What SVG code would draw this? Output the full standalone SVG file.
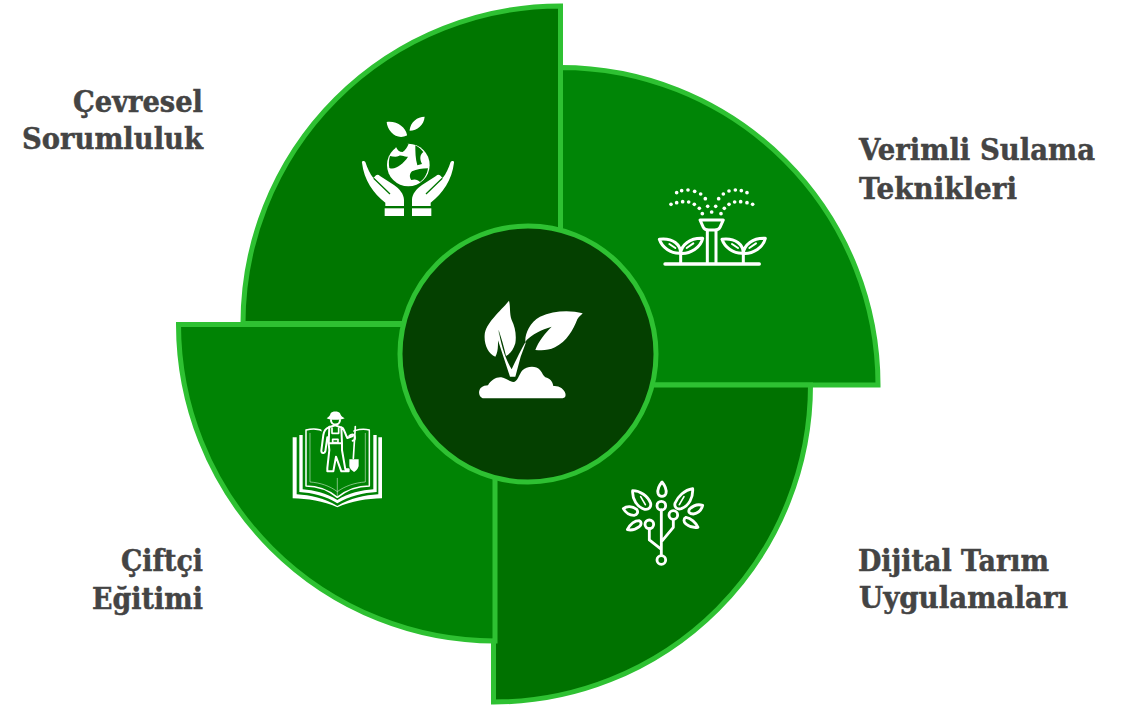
<svg xmlns="http://www.w3.org/2000/svg" width="1135" height="707" viewBox="0 0 1135 707">
<style>
.sec{stroke:#2ec132;stroke-width:5}
.lbl{font-family:"DejaVu Serif","Liberation Serif",serif;font-weight:700;font-size:30px;fill:#444;stroke:#444;stroke-width:.5}
.w{fill:#fff}
.l{fill:none;stroke:#fff;stroke-linejoin:round;stroke-linecap:round}
</style>
<rect width="1135" height="707" fill="#fff"/>
<g id="connectors"></g>
<g id="node-cevresel"><path class="sec" fill="#007600" d="M560.5 323.5V6A317.5 317.5 0 0 0 243 323.500Z"/></g>
<g id="node-sulama"><path class="sec" fill="#008506" d="M560.500 385V67.500A317.500 317.500 0 0 1 878 385Z"/></g>
<g id="node-dijital"><path class="sec" fill="#007200" d="M493.500 385H810.500A317 317 0 0 1 493.500 702Z"/></g>
<g id="node-egitim"><path class="sec" fill="#008304" d="M495 324.500V641A317 317 0 0 1 178.500 324.500Z"/></g>
<g id="node-merkez"><circle class="sec" cx="528" cy="354" r="128" fill="#044000"/></g>

<g id="icon-cevresel" transform="translate(340 100) scale(.3333)">
<circle class="w" cx="205" cy="195" r="64"/>
<path fill="#007600" d="M168 140C176 134 192 130 206 131C202 142 196 150 188 156C178 156 172 150 168 140ZM150 168C158 170 170 172 176 168C186 164 192 172 204 170C198 180 190 188 180 196C170 204 158 208 148 204C146 192 146 180 150 168ZM226 136C234 140 244 148 250 156C240 164 238 176 246 192L232 196C226 176 226 156 226 136ZM264 205C262 222 252 238 240 246C234 240 226 236 214 240C208 232 208 222 216 214C230 208 246 206 264 205Z"/>
<path class="w" d="M201 127V104C196 82 172 62 140 66C142 95 172 122 201 106ZM209 127V90C212 66 232 50 254 50C252 75 232 92 209 92Z"/>
<path class="w" d="M66 188C64 183 73 181 76 186C82 205 90 222 100 234L108 226C112 223 116 224 120 228L162 255C178 266 192 282 192 300V318H136V308C100 280 72 240 66 188Z"/>
<path class="w" d="M342 188C344 183 335 181 332 186C326 205 318 222 308 234L300 226C296 223 292 224 288 228L246 255C230 266 216 282 216 300V318H272V308C308 280 336 240 342 188Z"/>
<path fill="none" stroke="#007600" stroke-width="4" d="M101 235L150 282M307 235L258 282"/>
<rect class="w" x="134" y="325" width="58" height="23"/>
<rect class="w" x="216" y="325" width="58" height="23"/>
</g>

<g id="icon-sulama" transform="translate(640 170) scale(.3333)">
<g class="w">
<circle cx="110" cy="68" r="5.500"/><circle cx="125" cy="62" r="5.500"/><circle cx="144" cy="60" r="5.500"/><circle cx="164" cy="64" r="5.500"/><circle cx="182" cy="72" r="5.500"/><circle cx="196" cy="86" r="5.500"/>
<circle cx="93" cy="103" r="5.500"/><circle cx="110" cy="98" r="5.500"/><circle cx="128" cy="95" r="5.500"/><circle cx="146" cy="96" r="5.500"/><circle cx="163" cy="103" r="5.500"/><circle cx="178" cy="115" r="5.500"/><circle cx="187" cy="131" r="5.500"/>
<circle cx="203" cy="109" r="5.500"/><circle cx="215" cy="126" r="5.500"/><circle cx="227" cy="109" r="5.500"/><circle cx="243" cy="131" r="5.500"/>
<circle cx="236" cy="86" r="5.500"/><circle cx="250" cy="72" r="5.500"/><circle cx="267" cy="63" r="5.500"/><circle cx="286" cy="60" r="5.500"/><circle cx="304" cy="62" r="5.500"/><circle cx="321" cy="68" r="5.500"/>
<circle cx="253" cy="115" r="5.500"/><circle cx="267" cy="103" r="5.500"/><circle cx="284" cy="96" r="5.500"/><circle cx="302" cy="95" r="5.500"/><circle cx="321" cy="98" r="5.500"/><circle cx="338" cy="103" r="5.500"/>
</g>
<g class="l" stroke-width="9">
<path d="M180 150H250L240 172C238 178 232 180 224 180H206C198 180 192 178 190 172Z"/>
<path d="M202 182V278M228 182V278"/>
<path d="M75 282H358" stroke-width="10"/>
<g id="plant-a">
<path d="M122 278V250C122 225 100 203 58 208C66 232 92 252 122 250ZM122 250C124 225 150 203 188 205C182 232 152 252 122 250Z"/>
<path d="M88 222L106 234M160 220L140 234" stroke-width="6"/>
</g>
<use href="#plant-a" transform="translate(188 0)"/>
</g>
</g>

<g id="icon-dijital" transform="translate(600 470) scale(.3333)">
<g class="l" stroke-width="8.500">
<circle cx="184" cy="270" r="13"/><circle cx="184" cy="107" r="13"/><circle cx="220" cy="135" r="13"/><circle cx="148" cy="163" r="13"/>
<path d="M184 257V120M148 176V210L184 238M220 148V172L185 214"/>
<path d="M186 36C176 48 172 60 174 70C178 82 194 82 198 70C200 60 196 48 186 36Z"/>
<path d="M98 62C120 62 144 78 152 100C154 112 146 120 134 118C112 112 96 88 98 62Z"/>
<path d="M278 56C254 60 234 78 225 100C222 112 232 120 244 116C266 108 280 84 278 56Z"/>
<path d="M70 116C80 108 96 108 110 118C116 126 112 134 102 136C90 136 78 130 70 116Z"/>
<path d="M308 106C296 102 280 106 268 118C264 126 268 132 280 132C292 130 304 122 308 106Z"/>
<path d="M82 179C90 164 104 152 118 152C126 156 124 166 118 170C108 178 96 182 82 179Z"/>
<path d="M294 172C288 158 272 144 258 142C250 146 250 156 258 162C268 170 282 174 294 172Z"/>
<path d="M122 80L136 104M252 80L238 104" stroke-width="5"/>
</g>
</g>

<g id="icon-egitim" transform="translate(280 400) scale(.3333)">
<g class="w">
<path d="M38 112H50V283C90 285 135 295 172 318C210 295 255 285 295 283V112H306V295C262 296 215 303 172 322C130 303 82 296 38 295Z"/>
<path d="M58 105H68V268C100 270 140 280 172 300C205 280 245 270 280 268V105H290V276C250 278 208 288 172 310C138 288 96 278 58 276Z"/>
</g>
<g class="l" stroke-width="4.500">
<path d="M78 90C100 84 122 88 135 96M78 90V258C110 258 145 270 172 292C200 270 235 258 268 258V90C250 85 225 88 208 100"/>
<path d="M90 100V246C120 248 150 258 172 275C195 258 225 248 256 246V100" stroke-width="2" opacity=".75"/>
<path d="M172 235V292" stroke-width="2" opacity=".75"/>
</g>
<path fill="#008304" d="M124 86H220V210H140Z"/>
<path class="w" d="M140 55C146 50 150 48 152 40C156 33 176 33 180 40C183 48 186 50 194 55C180 61 152 61 140 55Z"/>
<g class="l" stroke-width="6">
<path d="M153 60C152 78 180 78 180 60"/>
<path d="M146 82C136 86 132 92 130 105L124 152C124 160 134 162 136 154L142 112M146 82L166 76L188 84C194 90 196 104 202 114L218 108M148 80L146 130M184 82L186 130M146 130H186V150L196 208H206V214H184L168 170L160 214H142V204L148 150Z"/>
<path d="M156 84V100H176V84M158 118H174V128H158Z" stroke-width="5"/>
<path d="M218 122C224 122 226 116 224 108C222 102 214 102 208 108"/>
<path d="M226 80L220 175" stroke-width="5"/>
</g>
<path class="w" d="M208 178H236V198C234 208 226 214 222 216C216 212 208 206 208 198Z"/>
</g>

<g id="icon-merkez" transform="translate(460 280) scale(.3333)">
<path class="w" d="M147 62C152 80 148 100 155 120C165 140 170 165 166 190C160 210 150 222 138 228C132 200 124 175 116 150C112 185 118 212 106 230C85 222 72 195 74 165C76 130 120 95 147 62Z"/>
<path class="w" d="M368 100C330 90 280 92 240 110C205 130 192 170 197 190L182 230L166 290H150L112 175L116 150C122 190 135 235 155 268C168 240 185 205 200 180C215 165 245 148 275 140C255 160 235 185 226 210C245 212 265 212 285 202C320 185 340 150 352 118C358 108 366 104 368 100Z"/>
<path class="w" d="M68 355C56 350 54 334 62 324C68 318 78 316 84 316C92 300 110 290 124 292C140 296 150 306 160 306C172 306 178 282 186 272C200 258 228 256 240 270C248 280 250 288 256 292C270 296 278 304 280 318C296 316 312 326 316 340C318 348 316 354 308 355Z"/>
</g>

<g id="labels">
<text class="lbl" x="73" y="112" textLength="130" lengthAdjust="spacingAndGlyphs">Çevresel</text>
<text class="lbl" x="22" y="149" textLength="181" lengthAdjust="spacingAndGlyphs">Sorumluluk</text>
<text class="lbl" x="859" y="160" textLength="236" lengthAdjust="spacingAndGlyphs">Verimli Sulama</text>
<text class="lbl" x="859" y="199" textLength="158" lengthAdjust="spacingAndGlyphs">Teknikleri</text>
<text class="lbl" x="858" y="571" textLength="191" lengthAdjust="spacingAndGlyphs">Dijital Tarım</text>
<text class="lbl" x="859" y="608" textLength="209" lengthAdjust="spacingAndGlyphs">Uygulamaları</text>
<text class="lbl" x="121" y="571" textLength="82" lengthAdjust="spacingAndGlyphs">Çiftçi</text>
<text class="lbl" x="92" y="609" textLength="111" lengthAdjust="spacingAndGlyphs">Eğitimi</text>
</g>
</svg>
